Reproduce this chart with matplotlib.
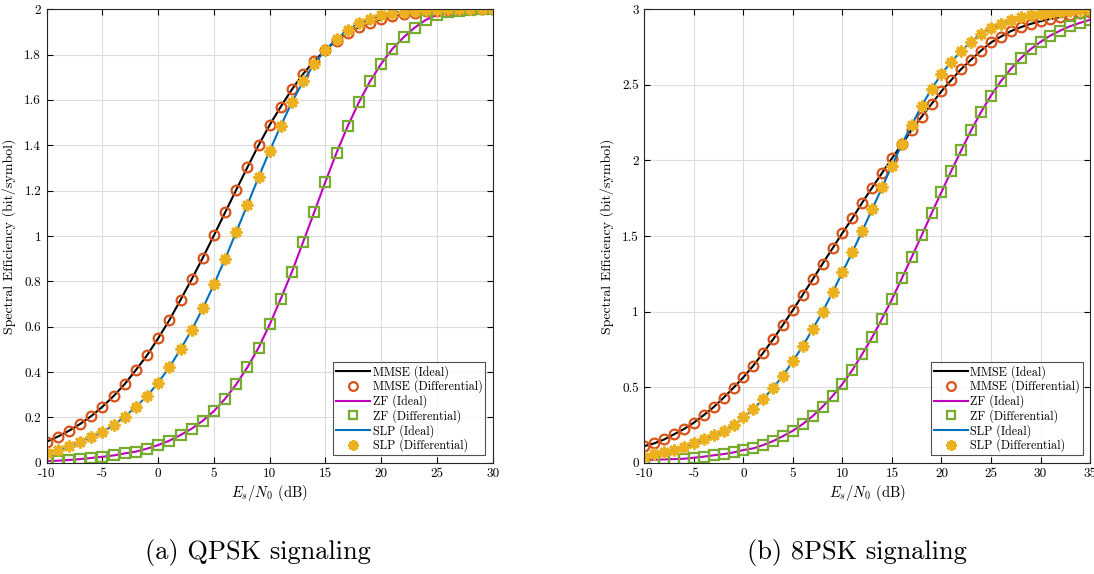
'''Spectral efficiency vs Es/N0 for QPSK and 8PSK signaling'''

import numpy as np
import matplotlib
matplotlib.use("Agg")
import matplotlib.pyplot as plt

plt.rcParams['font.family'] = ['cmr10']
plt.rcParams['mathtext.fontset'] = 'cm'
plt.rcParams['axes.formatter.use_mathtext'] = False
plt.rcParams['axes.unicode_minus'] = False

# MATLAB default colour order
C_MMSE_DIFF = (0.850, 0.325, 0.098)
C_ZF_DIFF = (0.466, 0.674, 0.188)
C_SLP = (0.000, 0.447, 0.741)
C_SLP_DIFF = (0.929, 0.694, 0.125)

# ---- QPSK ----
snr_qpsk = list(range(-10, 31))
mmse_qpsk = [0.093, 0.115, 0.141, 0.171, 0.206, 0.247, 0.294, 0.347, 0.409, 0.474,
             0.549, 0.629, 0.718, 0.809, 0.904, 1.003, 1.104, 1.204, 1.303, 1.400,
             1.490, 1.571, 1.647, 1.715, 1.772, 1.821, 1.862, 1.897, 1.921, 1.941,
             1.956, 1.969, 1.978, 1.985, 1.991, 1.994, 1.997, 1.999, 1.999, 2.000, 2.000]
zf_qpsk = [0.007, 0.009, 0.012, 0.016, 0.021, 0.026, 0.032, 0.041, 0.049, 0.062,
           0.078, 0.097, 0.122, 0.150, 0.185, 0.228, 0.282, 0.346, 0.421, 0.507,
           0.610, 0.724, 0.843, 0.974, 1.106, 1.240, 1.368, 1.485, 1.590, 1.682,
           1.760, 1.825, 1.876, 1.919, 1.953, 1.976, 1.987, 1.994, 1.997, 1.999, 2.000]
slp_qpsk = [0.044, 0.056, 0.074, 0.093, 0.115, 0.135, 0.166, 0.203, 0.247, 0.294,
            0.353, 0.421, 0.500, 0.585, 0.681, 0.787, 0.899, 1.018, 1.138, 1.259,
            1.376, 1.487, 1.591, 1.682, 1.759, 1.821, 1.869, 1.909, 1.938, 1.959,
            1.975, 1.985, 1.990, 1.994, 1.997, 1.998, 1.999, 2.000, 2.000, 2.000, 2.000]

# ---- 8PSK ----
snr_8psk = list(range(-10, 36))
mmse_8psk = [0.110, 0.128, 0.154, 0.188, 0.223, 0.265, 0.315, 0.368, 0.430, 0.496,
             0.565, 0.642, 0.728, 0.816, 0.913, 1.010, 1.112, 1.213, 1.317, 1.418,
             1.520, 1.617, 1.721, 1.820, 1.917, 2.014, 2.107, 2.202, 2.290, 2.374,
             2.458, 2.533, 2.605, 2.667, 2.727, 2.780, 2.819, 2.855, 2.881, 2.903,
             2.921, 2.936, 2.949, 2.963, 2.974, 2.982]
zf_8psk = [0.018, 0.020, 0.022, 0.024, 0.026, 0.033, 0.040, 0.049, 0.057, 0.068,
           0.084, 0.095, 0.117, 0.143, 0.176, 0.212, 0.256, 0.309, 0.371, 0.441,
           0.521, 0.613, 0.719, 0.829, 0.953, 1.081, 1.220, 1.361, 1.504, 1.650,
           1.791, 1.932, 2.067, 2.199, 2.321, 2.429, 2.524, 2.605, 2.676, 2.736,
           2.784, 2.826, 2.859, 2.888, 2.910, 2.930]
slp_8psk = [0.040, 0.057, 0.073, 0.084, 0.106, 0.128, 0.154, 0.181, 0.212, 0.247,
            0.300, 0.355, 0.421, 0.496, 0.576, 0.673, 0.772, 0.885, 0.999, 1.127,
            1.260, 1.394, 1.533, 1.677, 1.822, 1.966, 2.107, 2.235, 2.361, 2.473,
            2.572, 2.654, 2.724, 2.786, 2.837, 2.874, 2.903, 2.930, 2.947, 2.960,
            2.971, 2.978, 2.985, 2.989, 2.993, 2.996]

qpsk_yticklabels = ['0', '0.2', '0.4', '0.6', '0.8', '1', '1.2', '1.4', '1.6', '1.8', '2']
psk8_yticklabels = ['0', '0.5', '1', '1.5', '2', '2.5', '3']


def draw_panel(ax, snr, mmse, zf, slp, ymax, yticks, yticklabels, xticks):
    ax.plot(snr, mmse, color='k', lw=1.5, label='MMSE (Ideal)')
    ax.plot(snr, mmse, ls='none', marker='o', ms=7, mfc='none', mec=C_MMSE_DIFF,
            mew=1.6, label='MMSE (Differential)')
    ax.plot(snr, zf, color='m', lw=1.5, label='ZF (Ideal)')
    ax.plot(snr, zf, ls='none', marker='s', ms=7, mfc='none', mec=C_ZF_DIFF,
            mew=1.6, label='ZF (Differential)')
    ax.plot(snr, slp, color=C_SLP, lw=1.5, label='SLP (Ideal)')
    ax.plot(snr, slp, ls='none', marker=(8, 2, 0), ms=8.5, mec=C_SLP_DIFF,
            mew=2.0, label='SLP (Differential)')

    ax.set_xlim(snr[0], snr[-1])
    ax.set_ylim(0, ymax)
    ax.set_xticks(xticks)
    ax.set_xticklabels([str(t) for t in xticks])
    ax.set_yticks(yticks)
    ax.set_yticklabels(yticklabels)
    ax.grid(True, color='#dcdcdc', lw=0.8)
    ax.set_axisbelow(True)
    ax.tick_params(direction='in', top=True, right=True, labelsize=9.5, length=4,
                   width=0.8, pad=4)
    for s in ax.spines.values():
        s.set_linewidth(0.8)
        s.set_color('#262626')
    ax.set_xlabel(r'$E_s/N_0$ (dB)', fontsize=10.5, labelpad=2)
    ax.set_ylabel('Spectral Efficiency (bit/symbol)', fontsize=10, labelpad=6)
    leg = ax.legend(loc='lower right', fontsize=8.7, frameon=True, fancybox=False,
                    borderaxespad=0.6, handlelength=2.8, handletextpad=0.2,
                    labelspacing=0.08, borderpad=0.25, markerscale=0.9)
    leg.get_frame().set_edgecolor('#262626')
    leg.get_frame().set_linewidth(0.8)


fig = plt.figure(figsize=(10.94, 5.74), dpi=100)
ax_a = fig.add_axes([0.0427, 0.1939, 0.4077, 0.790])
ax_b = fig.add_axes([0.589, 0.1939, 0.4074, 0.790])

draw_panel(ax_a, snr_qpsk, mmse_qpsk, zf_qpsk, slp_qpsk, 2,
           np.arange(0, 2.01, 0.2), qpsk_yticklabels, list(range(-10, 31, 5)))
draw_panel(ax_b, snr_8psk, mmse_8psk, zf_8psk, slp_8psk, 3,
           np.arange(0, 3.01, 0.5), psk8_yticklabels, list(range(-10, 36, 5)))

fig.text(258 / 1094, 1 - 552 / 574, '(a) QPSK signaling', fontsize=19,
         ha='center', va='center')
fig.text(857 / 1094, 1 - 552 / 574, '(b) 8PSK signaling', fontsize=19,
         ha='center', va='center')

fig.savefig('out.png', dpi=100)
